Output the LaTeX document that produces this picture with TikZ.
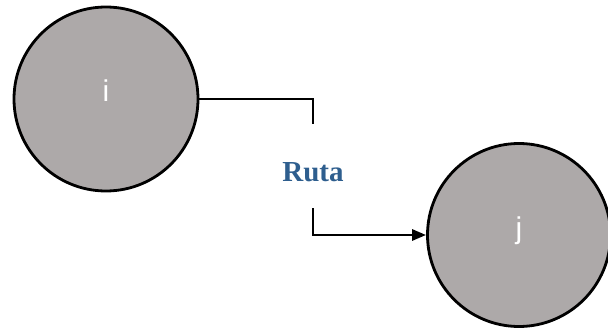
\documentclass[tikz,border=0pt]{standalone}
\usepackage{fontspec}
\setmainfont{Liberation Serif}
\newfontfamily\labelsans{Liberation Sans}
\usetikzlibrary{arrows.meta}
\definecolor{nodegray}{HTML}{ADA9A9}
\definecolor{rutablue}{HTML}{2E5E8E}
\tikzset{
  vertex/.style={circle, draw=black, line width=2.8pt, fill=nodegray, inner sep=0pt,
    text=white, font=\labelsans\fontsize{30}{32}\selectfont,
    text height=6pt, text depth=0pt},
  conn/.style={draw=black, line width=2.8pt},
}
\begin{document}
\begin{tikzpicture}[x=1pt,y=-1pt]
\useasboundingbox (0,0) rectangle (608,329);
\node[vertex, minimum size=184pt] (i) at (106,99) {i};
\node[vertex, minimum size=183pt] (j) at (519,235) {j};
\node[font=\bfseries\fontsize{29}{32}\selectfont, text=rutablue] (ruta) at (313,172) {Ruta};
\coordinate (c1) at (313,124);
\coordinate (c2) at (313,208);
\draw[conn] (i.east) -| (c1);
\draw[conn, -{Triangle[length=14pt,width=11pt]}] (c2) |- (j.west);
\end{tikzpicture}
\end{document}
